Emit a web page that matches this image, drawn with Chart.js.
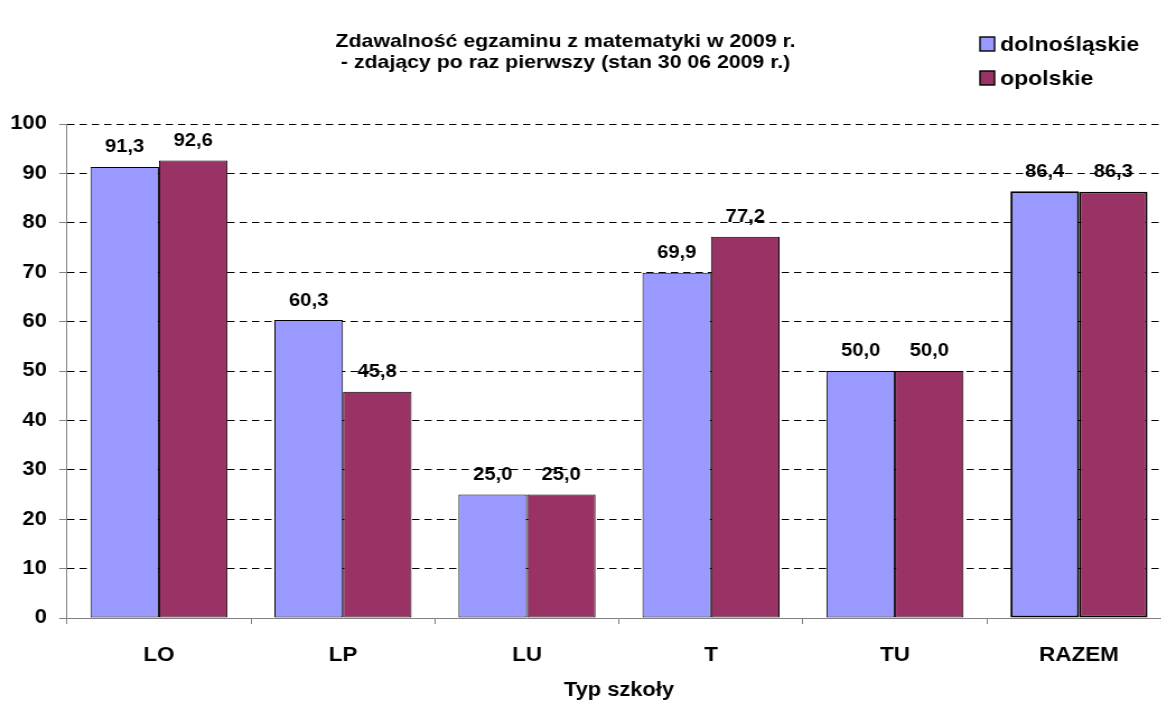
<!DOCTYPE html>
<html>
<head>
<meta charset="utf-8">
<script src="https://cdn.jsdelivr.net/npm/chart.js@4/dist/chart.umd.min.js"></script>
<style>
  html, body { margin: 0; padding: 0; background: #fff; overflow: hidden; }
  /* the source picture is stretched a little sideways, so the chart is too */
  #wrap { width: 1050px; height: 706px; transform: scaleX(1.12); transform-origin: 0 0; }
</style>
</head>
<body>
<div id="wrap"><canvas id="myChart"></canvas></div>
<script>
const titleLines = ['Zdawalność egzaminu z matematyki w 2009 r.', '- zdający po raz pierwszy (stan 30 06 2009 r.)'];
const categories = ['LO', 'LP', 'LU', 'T', 'TU', 'RAZEM'];
const seriesNames = ['dolnośląskie', 'opolskie'];
const dolnoslaskie = [91.3, 60.3, 25.0, 69.9, 50.0, 86.4];
const opolskie = [92.6, 45.8, 25.0, 77.2, 50.0, 86.3];
const yMin = 0, yMax = 100, yStep = 10;
const xTitle = 'Typ szkoły';

const fontFamily = "'Liberation Sans', Arial, sans-serif";
const colors = ['#9999FF', '#993366'];

Chart.defaults.font.family = fontFamily;
Chart.defaults.color = '#000';

// last group (RAZEM) has a heavier outline
const border = ctx => ctx.dataIndex === categories.length - 1 ? 1.9 : 1.0;

// value labels above the bars
const valueLabels = {
    id: 'valueLabels',
    afterDatasetsDraw(chart) {
        const ctx = chart.ctx;
        ctx.save();
        ctx.font = 'bold 18px ' + fontFamily;
        ctx.fillStyle = '#000';
        ctx.textAlign = 'center';
        ctx.textBaseline = 'middle';
        chart.data.datasets.forEach((ds, i) => {
            chart.getDatasetMeta(i).data.forEach((bar, j) => {
                ctx.fillText(ds.data[j].toFixed(1).replace('.', ','), bar.x, bar.y - 19.5);
            });
        });
        ctx.restore();
    }
};

// two line title and the legend box in the top right corner
const heading = {
    id: 'heading',
    afterDraw(chart) {
        const ctx = chart.ctx;
        ctx.save();
        ctx.fillStyle = '#000';
        ctx.textBaseline = 'middle';
        ctx.textAlign = 'center';
        ctx.font = 'bold 19px ' + fontFamily;
        titleLines.forEach((t, i) => ctx.fillText(t, 505, 42 + i * 21));

        ctx.textAlign = 'left';
        ctx.font = 'bold 20.5px ' + fontFamily;
        chart.data.datasets.forEach((ds, i) => {
            const y = 44 + i * 34;
            ctx.fillStyle = ds.backgroundColor;
            ctx.fillRect(875, y - 7, 13, 14);
            ctx.strokeStyle = '#000';
            ctx.lineWidth = 1.4;
            ctx.strokeRect(875, y - 7, 13, 14);
            ctx.fillStyle = '#000';
            ctx.fillText(ds.label, 893, y + 1);
        });
        ctx.restore();
    }
};

new Chart(document.getElementById('myChart'), {
    type: 'bar',
    data: {
        labels: categories,
        datasets: [
            {label: seriesNames[0], data: dolnoslaskie, backgroundColor: colors[0]},
            {label: seriesNames[1], data: opolskie, backgroundColor: colors[1]}
        ]
    },
    options: {
        responsive: true,
        maintainAspectRatio: false,
        animation: false,
        layout: {padding: {top: 124, right: 4.5, left: 0, bottom: 0}},
        datasets: {
            bar: {
                categoryPercentage: 0.745,
                barPercentage: 1.0,
                borderColor: '#000',
                borderWidth: border,
                borderSkipped: false
            }
        },
        plugins: {
            legend: {display: false},
            title: {display: false},
            tooltip: {enabled: false}
        },
        scales: {
            x: {
                afterFit: s => { s.height = 88; },
                grid: {offset: true, drawOnChartArea: false, drawTicks: true, tickLength: 6, tickColor: '#808080'},
                border: {color: '#808080', width: 1},
                ticks: {padding: 19, font: {size: 20, weight: 'bold'}, maxRotation: 0},
                title: {display: true, text: xTitle, font: {size: 19.5, weight: 'bold'}, padding: {top: 0, bottom: 4}}
            },
            y: {
                min: yMin,
                max: yMax,
                afterFit: s => { s.width = 59.8; },
                grid: {
                    color: c => (c.tick && c.tick.value === 0) ? 'rgba(0,0,0,0)' : '#000',
                    lineWidth: 1,
                    tickLength: 7,
                    tickColor: '#808080',
                    tickBorderDash: []
                },
                border: {color: '#808080', width: 1, dash: [6.5, 4.5]},
                ticks: {stepSize: yStep, padding: 11, font: {size: 19.5, weight: 'bold'}}
            }
        }
    },
    plugins: [valueLabels, heading]
});
</script>
</body>
</html>
